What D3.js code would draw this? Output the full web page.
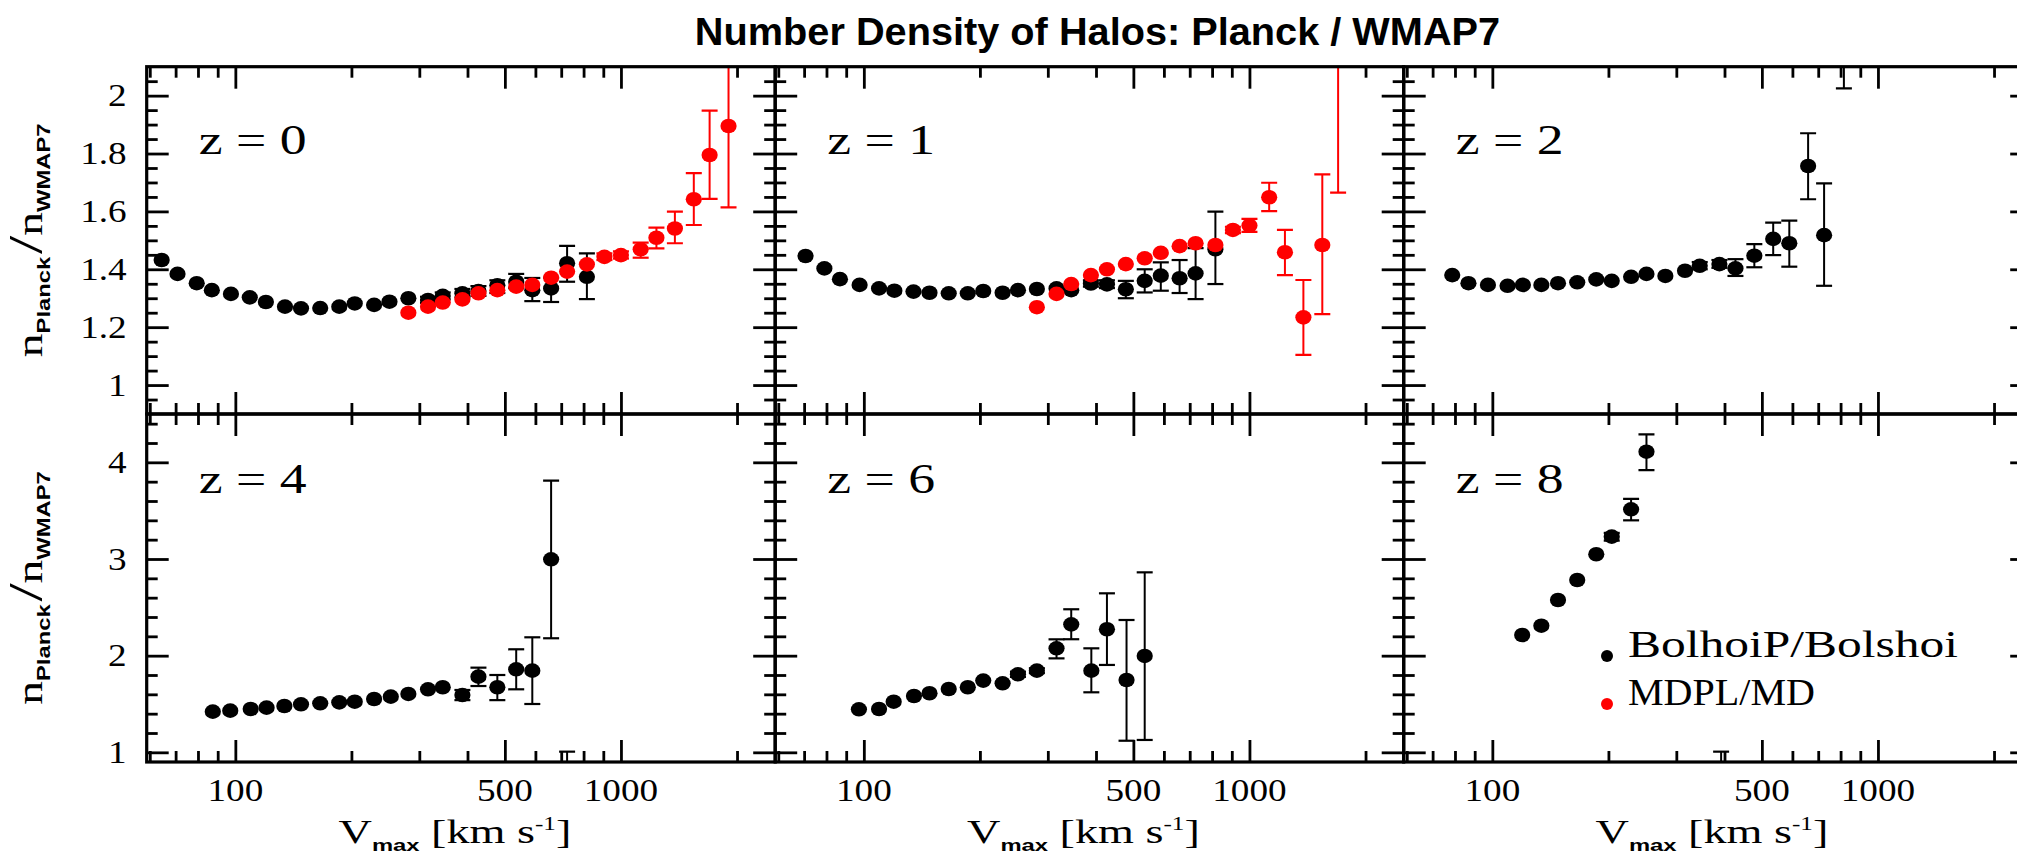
<!DOCTYPE html>
<html><head><meta charset="utf-8">
<script src="https://cdn.jsdelivr.net/npm/d3@7"></script>
<style>body{margin:0;background:#fff}svg{display:block}</style>
</head><body>
<svg id="chart" width="2017" height="863"></svg>
<script>
// ---------------- DATA ----------------
const panelLabels = ["z=0","z=1","z=2","z=4","z=6","z=8"];
const legendLabels = ["BolhoiP/Bolshoi","MDPL/MD"];
const titleText = "Number Density of Halos: Planck / WMAP7";
const xTickMajor = [100, 500, 1000];
const xTickLabels = ["100", "500", "1000"];
const xTickMinor = [60, 70, 80, 90, 200, 300, 400, 600, 700, 800, 900, 2000];
const yTopMajor = [1, 1.2, 1.4, 1.6, 1.8, 2];
const yTopLabels = ["1", "1.2", "1.4", "1.6", "1.8", "2"];
const yBotMajor = [1, 2, 3, 4];
const yBotLabels = ["1", "2", "3", "4"];

// z=0
const z0BpV  = [64.4,70.8,79.4,86.9,97.4,109,120,134.5,148,166,186,204,229,251,281,316,345,388,427,478,535,589,659,725,816];
const z0BpR  = [1.432,1.384,1.352,1.328,1.315,1.303,1.287,1.271,1.265,1.266,1.271,1.282,1.277,1.288,1.300,1.294,1.308,1.317,1.325,1.345,1.357,1.328,1.334,1.421,1.374];
const z0BpLo = [null,null,null,null,null,null,null,null,null,null,null,null,null,null,null,1.284,1.296,1.303,1.308,1.318,1.335,1.290,1.287,1.357,1.297];
const z0BpHi = [null,null,null,null,null,null,null,null,null,null,null,null,null,null,null,1.305,1.320,1.332,1.342,1.362,1.384,1.370,1.371,1.481,1.455];
const z0MdV  = [281,316,345,388,427,478,535,589,659,725,816,906,1000,1125,1236,1380,1545,1698,1901];
const z0MdR  = [1.250,1.271,1.285,1.296,1.317,1.328,1.340,1.346,1.371,1.392,1.417,1.443,1.449,1.469,1.509,1.541,1.642,1.795,1.895];
const z0MdLo = [null,null,null,null,null,null,null,null,null,null,null,1.432,1.437,1.440,1.472,1.490,1.553,1.643,1.614];
const z0MdHi = [null,null,null,null,null,null,null,null,null,null,null,1.455,1.462,1.492,1.544,1.599,1.732,1.948,2.300];
// z=1
const z1BpV  = [70.6,79,86.7,97.5,109.5,120,134.5,148,166,186,204,229,251,281,316,345,388,427,478,535,589,659,725,816];
const z1BpR  = [1.446,1.403,1.366,1.346,1.334,1.326,1.323,1.319,1.317,1.317,1.325,1.319,1.328,1.332,1.334,1.328,1.351,1.348,1.331,1.360,1.378,1.369,1.386,1.469];
const z1BpLo = [null,null,null,null,null,null,null,null,null,null,null,null,null,null,null,null,1.340,1.335,1.300,1.320,1.326,1.318,1.297,1.349];
const z1BpHi = [null,null,null,null,null,null,null,null,null,null,null,null,null,null,null,null,1.362,1.362,1.360,1.400,1.424,1.432,1.473,1.599];
const z1MdV  = [281,316,345,388,427,478,535,589,659,725,816,906,1000,1125,1236,1380,1545,1698];
const z1MdR  = [1.269,1.315,1.349,1.380,1.400,1.418,1.438,1.457,1.480,1.490,1.484,1.536,1.551,1.649,1.459,1.234,1.484,2.600];
const z1MdLo = [null,null,null,null,null,null,null,null,null,null,null,1.525,1.529,1.601,1.380,1.104,1.245,1.665];
const z1MdHi = [null,null,null,null,null,null,null,null,null,null,null,1.547,1.574,1.699,1.536,1.363,1.728,3.500];
// z=2
const z2BpV  = [78.7,86.7,97.4,109.5,120,134,148,166,186,204,229,251,281,316,345,388,427,478,535,589,659,725,816];
const z2BpR  = [1.380,1.352,1.346,1.343,1.346,1.346,1.352,1.355,1.365,1.360,1.374,1.384,1.377,1.395,1.412,1.418,1.403,1.447,1.505,1.490,1.757,1.518,2.600];
const z2BpLo = [null,null,null,null,null,null,null,null,null,null,null,null,null,null,1.400,1.405,1.377,1.407,1.449,1.409,1.642,1.343,2.025];
const z2BpHi = [null,null,null,null,null,null,null,null,null,null,null,null,null,null,1.425,1.432,1.435,1.487,1.561,1.568,1.870,1.697,3.200];
// z=4
const z4BpV  = [87.4,97,109.6,120.5,134,148,166,186,204,229,253,281,316,345,388,427,478,535,589,659,725];
const z4BpR  = [1.421,1.431,1.448,1.462,1.479,1.497,1.507,1.517,1.524,1.552,1.576,1.604,1.652,1.673,1.593,1.783,1.673,1.859,1.845,2.997,0];
const z4BpLo = [null,null,null,null,null,null,null,null,null,null,null,null,null,null,1.540,1.686,1.540,1.652,1.500,2.180,-1];
const z4BpHi = [null,null,null,null,null,null,null,null,null,null,null,null,null,null,1.645,1.876,1.800,2.066,2.190,3.810,1.007];
// z=6
const z6BpV  = [97.1,109.5,119.5,134.9,148,166,186,204,229,251,281,316,345,389,427,480,535];
const z6BpR  = [1.445,1.448,1.524,1.583,1.611,1.655,1.673,1.742,1.714,1.807,1.845,2.076,2.324,1.845,2.273,1.748,1.997];
const z6BpLo = [null,null,null,null,null,null,null,null,null,1.780,1.820,1.972,2.170,1.621,1.904,1.120,1.128];
const z6BpHi = [null,null,null,null,null,null,null,null,null,1.835,1.870,2.169,2.480,2.076,2.645,2.369,2.862];
// z=8
const z8BpV  = [119.5,134,148,166,186,204,229,251,392];
const z8BpR  = [2.214,2.310,2.576,2.783,3.049,3.231,3.514,4.110,0];
const z8BpLo = [null,null,null,null,null,3.190,3.400,3.920,-1];
const z8BpHi = [null,null,null,null,null,3.270,3.621,4.290,1.007];

// ---------------- LAYOUT ----------------
const BLACK = "#000", RED = "#ff0000";
const X0 = 146.7, PW = 628.5;
const xDomain = [58.9, 2512];
const rows = [
  {top: 66.7, bottom: 414, domain: [0.9, 2.1], major: yTopMajor, labels: yTopLabels, minor: d3.range(0.95, 2.1, 0.05)},
  {top: 414, bottom: 762, domain: [0.9, 4.5], major: yBotMajor, labels: yBotLabels, minor: d3.range(1.2, 4.5, 0.2)}
];
function mk(v, r, lo, hi, color){ return v.map((d,i)=>({v:d, r:r[i], lo:lo[i], hi:hi[i], color})); }
const panels = [
  {col:0,row:0,label:panelLabels[0],series:[mk(z0BpV,z0BpR,z0BpLo,z0BpHi,BLACK), mk(z0MdV,z0MdR,z0MdLo,z0MdHi,RED)]},
  {col:1,row:0,label:panelLabels[1],series:[mk(z1BpV,z1BpR,z1BpLo,z1BpHi,BLACK), mk(z1MdV,z1MdR,z1MdLo,z1MdHi,RED)]},
  {col:2,row:0,label:panelLabels[2],series:[mk(z2BpV,z2BpR,z2BpLo,z2BpHi,BLACK)]},
  {col:0,row:1,label:panelLabels[3],series:[mk(z4BpV,z4BpR,z4BpLo,z4BpHi,BLACK)]},
  {col:1,row:1,label:panelLabels[4],series:[mk(z6BpV,z6BpR,z6BpLo,z6BpHi,BLACK)]},
  {col:2,row:1,label:panelLabels[5],series:[mk(z8BpV,z8BpR,z8BpLo,z8BpHi,BLACK)]}
];

const SERIF = "'Liberation Serif','Times New Roman',serif";
const SANS = "'Liberation Sans',Arial,Helvetica,sans-serif";
const svg = d3.select("#chart");
svg.append("rect").attr("width",2017).attr("height",863).attr("fill","#fff");

function stext(parent, x, y, str, o){
  const g = parent.append("g").attr("transform", `translate(${x},${y}) scale(${o.sx||1},1)`);
  return g.append("text").attr("text-anchor", o.anchor||"start")
    .attr("font-family", o.font||SERIF).attr("font-size", o.size)
    .attr("font-weight", o.weight||"normal").attr("fill","#000").text(str);
}

// Title
stext(svg, 1097.5, 45, titleText, {anchor:"middle", font:SANS, size:38, weight:"bold", sx:1.045});

const defs = svg.append("defs");
const MAJ = 22, MIN = 11;

panels.forEach((p, pi) => {
  const R = rows[p.row];
  const left = X0 + p.col*PW, right = left + PW;
  const x = d3.scaleLog().domain(xDomain).range([left, right]);
  const y = d3.scaleLinear().domain(R.domain).range([R.bottom, R.top]);
  const g = svg.append("g");

  defs.append("clipPath").attr("id","clip"+pi).append("rect")
    .attr("x", left).attr("y", R.top).attr("width", PW).attr("height", R.bottom - R.top);

  // data
  const dg = g.append("g").attr("clip-path", `url(#clip${pi})`);
  p.series.forEach(s => {
    const eb = s.filter(d => d.lo != null);
    dg.selectAll(null).data(eb).enter().append("line")
      .attr("x1", d=>x(d.v)).attr("x2", d=>x(d.v))
      .attr("y1", d=>y(d.lo)).attr("y2", d=>y(d.hi))
      .attr("stroke", d=>d.color).attr("stroke-width", 2);
    ["lo","hi"].forEach(k => {
      dg.selectAll(null).data(eb).enter().append("line")
        .attr("x1", d=>x(d.v)-8).attr("x2", d=>x(d.v)+8)
        .attr("y1", d=>y(d[k])).attr("y2", d=>y(d[k]))
        .attr("stroke", d=>d.color).attr("stroke-width", 2.2);
    });
    dg.selectAll(null).data(s).enter().append("ellipse")
      .attr("cx", d=>x(d.v)).attr("cy", d=>y(d.r))
      .attr("rx", 8.1).attr("ry", 7.3).attr("fill", d=>d.color);
  });

  // ticks via d3 axes (inward)
  const tk = (gen, vals, size, tr) => {
    g.append("g").attr("transform", tr)
      .call(gen.tickValues(vals).tickSize(-size).tickFormat(""))
      .call(a => a.select(".domain").remove())
      .selectAll("line").attr("stroke","#000").attr("stroke-width",2.8);
  };
  tk(d3.axisBottom(x), xTickMajor, MAJ, `translate(0,${R.bottom})`);
  tk(d3.axisBottom(x), xTickMinor, MIN, `translate(0,${R.bottom})`);
  tk(d3.axisTop(x), xTickMajor, MAJ, `translate(0,${R.top})`);
  tk(d3.axisTop(x), xTickMinor, MIN, `translate(0,${R.top})`);
  const minorY = R.minor.filter(v => !R.major.some(m => Math.abs(m - v) < 1e-6));
  tk(d3.axisLeft(y), R.major, MAJ, `translate(${left},0)`);
  tk(d3.axisLeft(y), minorY, MIN, `translate(${left},0)`);
  tk(d3.axisRight(y), R.major, MAJ, `translate(${right},0)`);
  tk(d3.axisRight(y), minorY, MIN, `translate(${right},0)`);

  // frame
  g.append("rect").attr("x", left).attr("y", R.top).attr("width", PW).attr("height", R.bottom - R.top)
    .attr("fill","none").attr("stroke","#000").attr("stroke-width",3.2);

  // panel label
  stext(g, left + 52, p.row === 0 ? 154 : 493, p.label.replace("=", " = "), {size:42, sx:1.28});

  // y tick labels (left column only)
  if (p.col === 0) {
    R.major.forEach((m, i) => {
      stext(g, left - 20, y(m) + 10.5, R.labels[i], {anchor:"end", size:31, sx:1.2});
    });
    // y axis title
    const cy = (R.top + R.bottom) / 2;
    const t = g.append("g").attr("transform", `translate(42,${cy}) rotate(-90) scale(1.36,1)`)
      .append("text").attr("text-anchor","middle").attr("fill","#000");
    t.append("tspan").attr("font-family",SERIF).attr("font-size",35).text("n");
    t.append("tspan").attr("font-family",SANS).attr("font-weight","bold").attr("font-size",17.5).attr("dy",8).text("Planck");
    t.append("tspan").attr("font-family",SERIF).attr("font-size",48).attr("dy",-8).attr("dx",2).text("/");
    t.append("tspan").attr("font-family",SERIF).attr("font-size",35).text("n");
    t.append("tspan").attr("font-family",SANS).attr("font-weight","bold").attr("font-size",17.5).attr("dy",8).text("WMAP7");
  }

  // x tick labels and axis title (bottom row)
  if (p.row === 1) {
    xTickMajor.forEach((m, i) => stext(g, x(m), 801, xTickLabels[i], {anchor:"middle", size:31, sx:1.2}));
    const cx = (left + right) / 2 - 6;
    const t = g.append("g").attr("transform", `translate(${cx},843) scale(1.4,1)`)
      .append("text").attr("text-anchor","middle").attr("fill","#000");
    t.append("tspan").attr("font-family",SERIF).attr("font-size",33).text("V");
    t.append("tspan").attr("font-family",SANS).attr("font-weight","bold").attr("font-size",17).attr("dy",8).text("max");
    t.append("tspan").attr("font-family",SERIF).attr("font-size",33).attr("dy",-8).text(" [km s");
    t.append("tspan").attr("font-family",SERIF).attr("font-size",18).attr("dy",-13).text("-1");
    t.append("tspan").attr("font-family",SERIF).attr("font-size",33).attr("dy",13).text("]");
  }
});

// legend
const legendColors = [BLACK, RED];
const legendWidths = [330, 187];
legendLabels.forEach((lab, i) => {
  const ly = 657 + i*48;
  svg.append("ellipse").attr("cx", 1607).attr("cy", ly - 1).attr("rx", 6).attr("ry", 6).attr("fill", legendColors[i]);
  svg.append("text").attr("x", 1628).attr("y", ly).attr("font-family", SERIF).attr("font-size", 38)
    .attr("textLength", legendWidths[i]).attr("lengthAdjust","spacingAndGlyphs").attr("fill","#000").text(lab);
});
</script>
</body></html>
